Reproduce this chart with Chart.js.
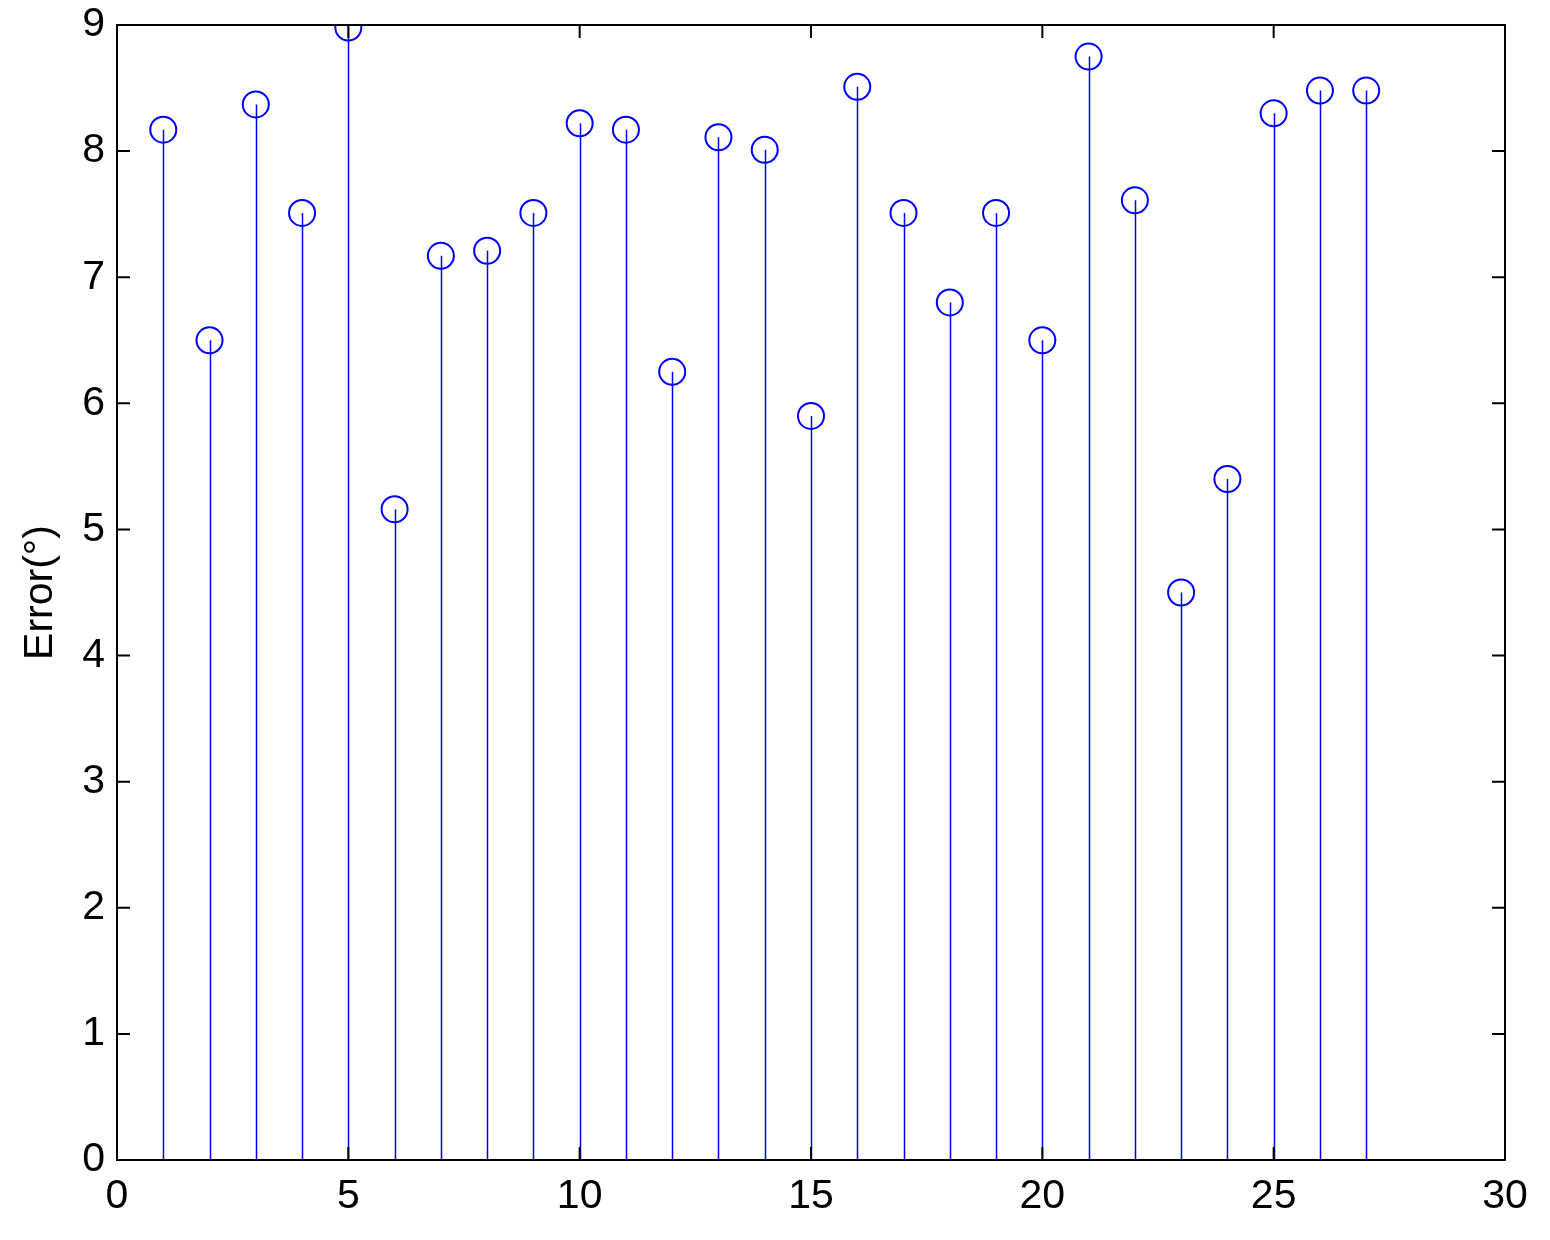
<!DOCTYPE html>
<html>
<head>
<meta charset="utf-8">
<script src="https://cdn.jsdelivr.net/npm/chart.js@4.4.1/dist/chart.umd.min.js"></script>
<style>
  html, body { margin: 0; padding: 0; background: #fff; }
  #wrap { width: 1550px; height: 1240px; }
</style>
</head>
<body>
<div id="wrap"><canvas id="stem"></canvas></div>
<script>
const samples = [1, 2, 3, 4, 5, 6, 7, 8, 9, 10, 11, 12, 13, 14, 15, 16, 17, 18, 19, 20, 21, 22, 23, 24, 25, 26, 27];
const errors = [8.17, 6.50, 8.37, 7.51, 8.98, 5.16, 7.17, 7.21, 7.51, 8.22, 8.17, 6.25, 8.11, 8.01,
                5.90, 8.51, 7.51, 6.80, 7.51, 6.50, 8.75, 7.61, 4.50, 5.40, 8.30, 8.48, 8.48];
const xTicks = [0, 5, 10, 15, 20, 25, 30];
const yTicks = [0, 1, 2, 3, 4, 5, 6, 7, 8, 9];

const points = samples.map((s, i) => ({ x: s, y: errors[i] }));

// stems from the baseline up to each marker
const stemPlugin = {
  id: "stems",
  beforeDatasetsDraw(chart) {
    const { ctx, scales } = chart;
    const y0 = scales.y.getPixelForValue(0);
    ctx.save();
    ctx.strokeStyle = "#0000ff";
    ctx.lineWidth = 1.5;
    points.forEach(p => {
      const px = Math.round(scales.x.getPixelForValue(p.x)) + 0.5;
      ctx.beginPath();
      ctx.moveTo(px, y0);
      ctx.lineTo(px, scales.y.getPixelForValue(p.y));
      ctx.stroke();
    });
    ctx.restore();
  }
};

// matlab style box with inward ticks
const framePlugin = {
  id: "frame",
  afterDraw(chart) {
    const { ctx, chartArea: a, scales } = chart;
    const len = 13;
    ctx.save();
    ctx.strokeStyle = "#000";
    ctx.lineWidth = 2;
    ctx.strokeRect(a.left, a.top, a.right - a.left, a.bottom - a.top);
    ctx.beginPath();
    xTicks.forEach(v => {
      const px = scales.x.getPixelForValue(v);
      ctx.moveTo(px, a.bottom); ctx.lineTo(px, a.bottom - len);
      ctx.moveTo(px, a.top); ctx.lineTo(px, a.top + len);
    });
    yTicks.forEach(v => {
      const py = scales.y.getPixelForValue(v);
      ctx.moveTo(a.left, py); ctx.lineTo(a.left + len, py);
      ctx.moveTo(a.right, py); ctx.lineTo(a.right - len, py);
    });
    ctx.stroke();
    ctx.restore();
  }
};

const font = { family: "'Liberation Sans', Arial, sans-serif", size: 41 };

new Chart(document.getElementById("stem"), {
  type: "scatter",
  data: {
    datasets: [
      {
        data: points,
        pointStyle: "circle",
        pointRadius: 13,
        pointHoverRadius: 13,
        borderColor: "#0000ff",
        backgroundColor: "rgba(0,0,0,0)",
        pointBorderWidth: 2,
        showLine: false,
      },
    ],
  },
  options: {
    responsive: true,
    maintainAspectRatio: false,
    animation: false,
    layout: { padding: { top: 25, right: 45, left: 0, bottom: 0 } },
    plugins: {
      legend: { display: false },
      tooltip: { enabled: false },
    },
    scales: {
      x: {
        type: "linear",
        min: 0,
        max: 30,
        afterBuildTicks: s => { s.ticks = xTicks.map(v => ({ value: v })); },
        afterFit: s => { s.height = 80; s.paddingLeft = 0; s.paddingRight = 0; },
        grid: { display: false, drawTicks: false },
        border: { display: false },
        ticks: { color: "#000", font: font, padding: 12, maxRotation: 0 },
      },
      y: {
        min: 0,
        max: 9,
        afterBuildTicks: s => { s.ticks = yTicks.map(v => ({ value: v })); },
        afterFit: s => { s.width = 117; s.paddingTop = 0; s.paddingBottom = 0; },
        grid: { display: false, drawTicks: false },
        border: { display: false },
        title: { display: true, text: "Error(°)", color: "#000", font: font, padding: { top: 16, bottom: 0 } },
        ticks: { color: "#000", font: font, padding: 12 },
      },
    },
  },
  plugins: [stemPlugin, framePlugin],
});
</script>
</body>
</html>
